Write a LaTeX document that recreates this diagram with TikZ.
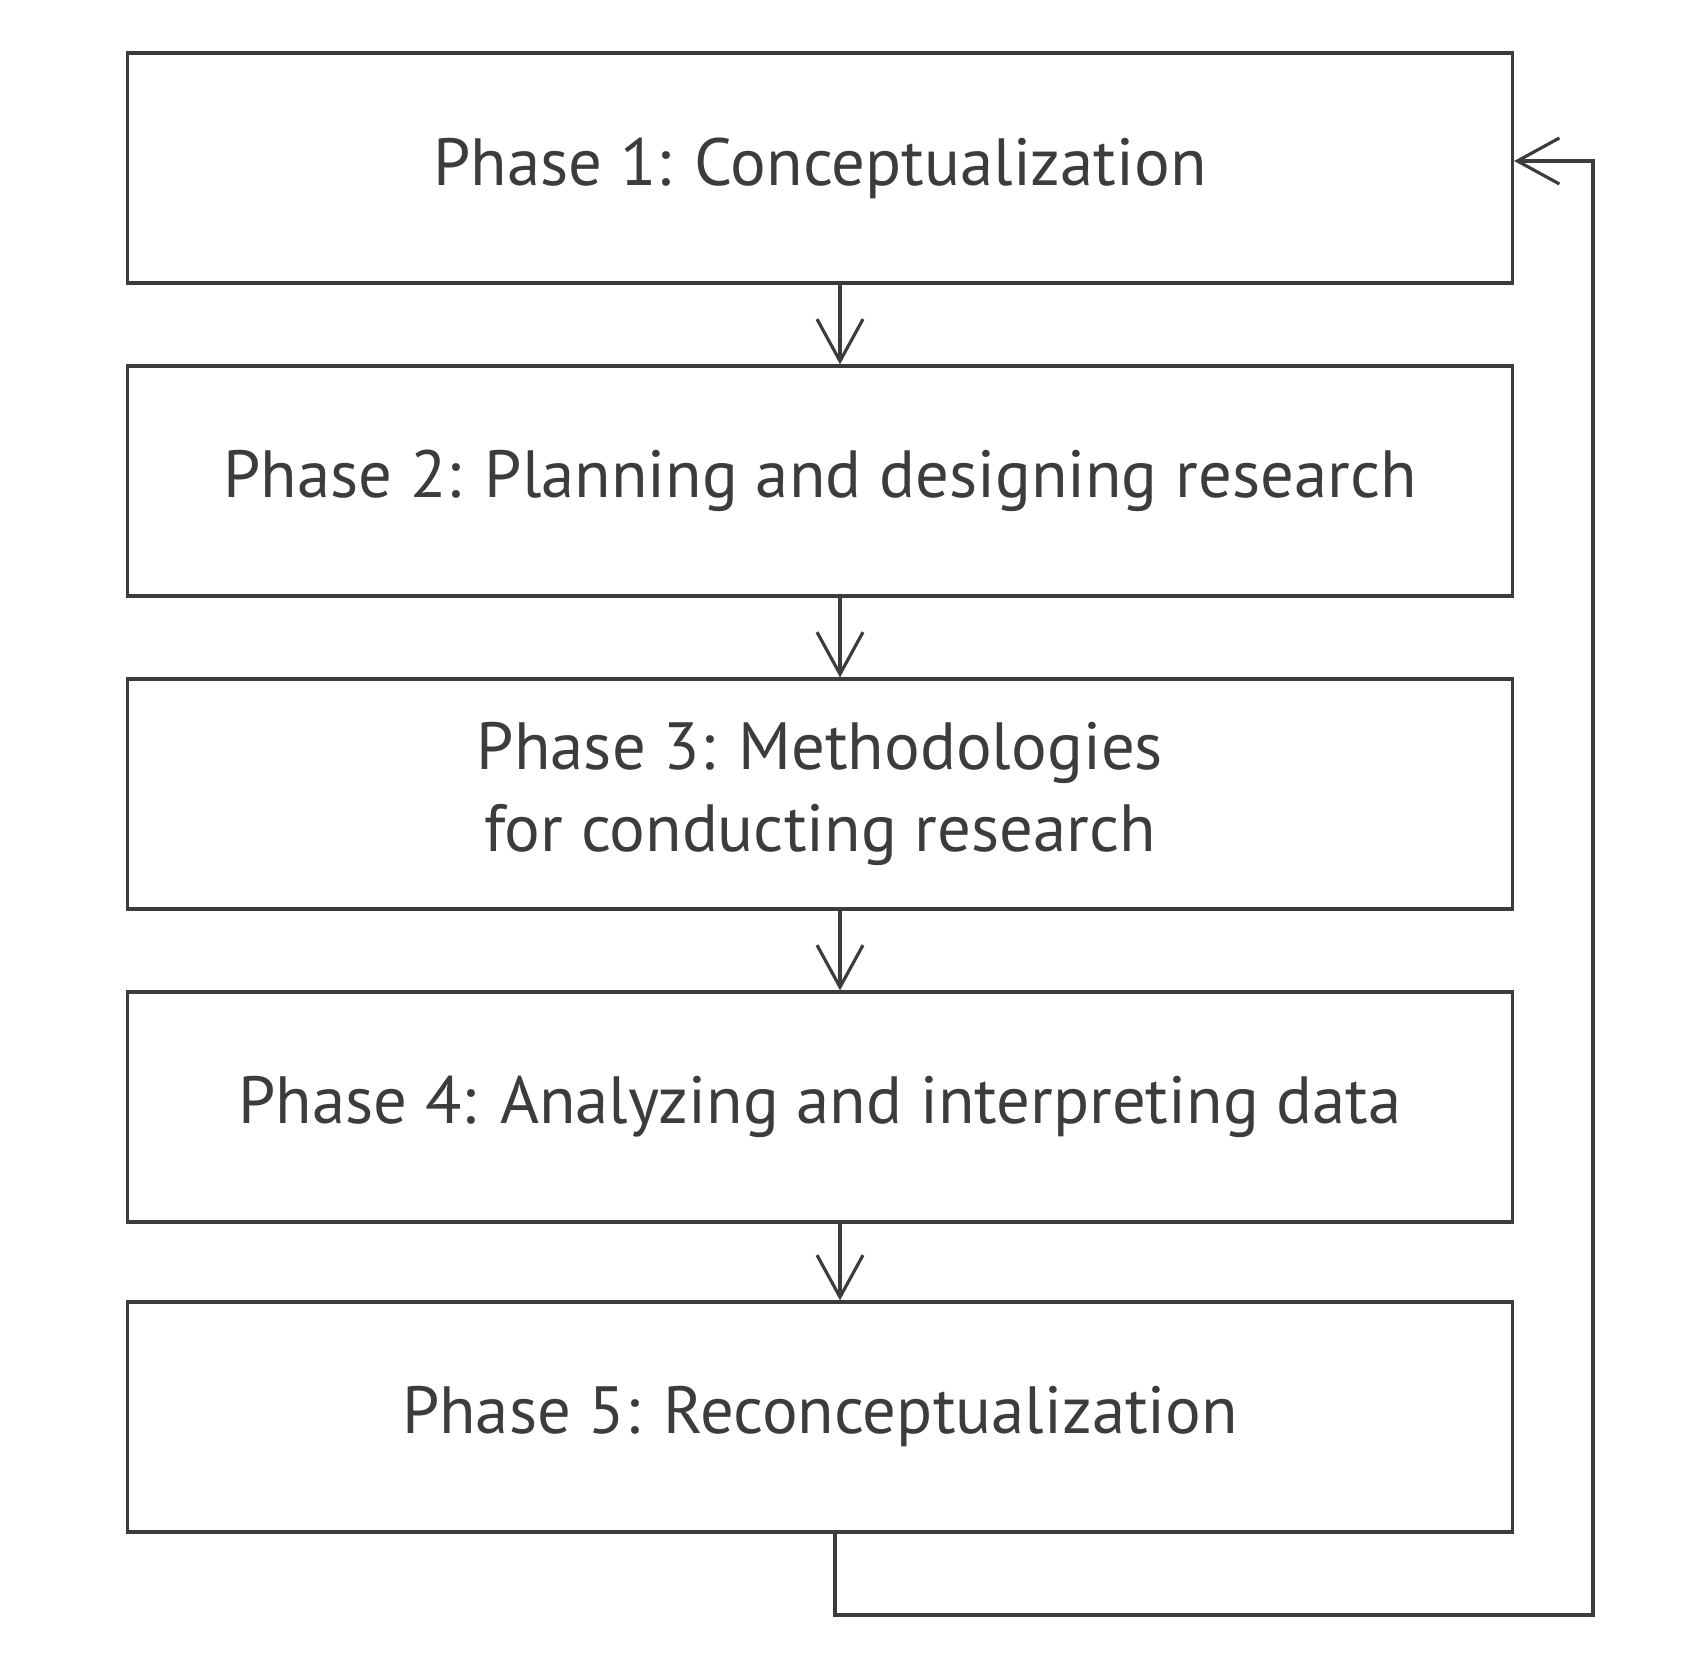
\documentclass[tikz,border=0pt]{standalone}
\usepackage{fontspec}
\setmainfont{PT Sans}
\usetikzlibrary{arrows.meta}

\definecolor{inkgray}{HTML}{3C3C3C}

\begin{document}
\begin{tikzpicture}[
    phase/.style={draw=inkgray, line width=0.9pt, minimum width=13.85cm, minimum height=2.3cm,
      text=inkgray, align=center, font=\fontsize{19}{23.5}\selectfont},
    flow/.style={draw=inkgray, line width=0.9pt, -{Straight Barb[length=4.2mm,width=4.6mm,line width=0.9pt]}}
  ]
    \useasboundingbox (0,0) rectangle (16.99,16.62);
    \node[phase] (p1) at (8.2,14.94) {Phase 1: Conceptualization};
    \node[phase] (p2) at (8.2,11.81) {Phase 2: Planning and designing research};
    \node[phase] (p3) at (8.2,8.68) {Phase 3: Methodologies\\for conducting research};
    \node[phase] (p4) at (8.2,5.55) {Phase 4: Analyzing and interpreting data};
    \node[phase] (p5) at (8.2,2.45) {Phase 5: Reconceptualization};
    \coordinate (loop) at (15.93,0.47);
    % arrows between phases
    \draw[flow] ([xshift=2mm]p1.south) -- ([xshift=2mm]p2.north);
    \draw[flow] ([xshift=2mm]p2.south) -- ([xshift=2mm]p3.north);
    \draw[flow] ([xshift=2mm]p3.south) -- ([xshift=2mm]p4.north);
    \draw[flow] ([xshift=2mm]p4.south) -- ([xshift=2mm]p5.north);
    % back to the start
    \draw[flow] ([xshift=1.5mm]p5.south) |- (loop) |- ([yshift=0.7mm]p1.east);
\end{tikzpicture}
\end{document}
